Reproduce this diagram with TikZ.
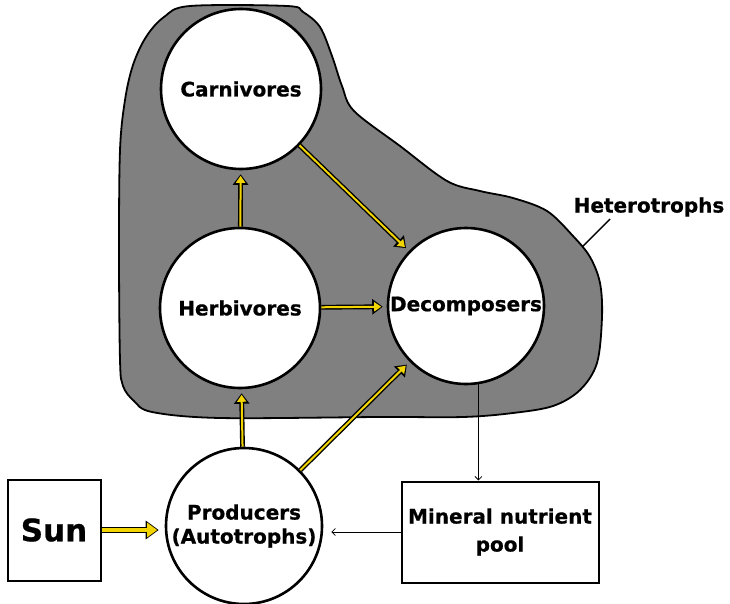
\documentclass[tikz,border=0pt]{standalone}
\usepackage{fontspec}
\setmainfont{DejaVu Sans}[BoldFeatures={FakeBold=0.7}]
\usepackage{tikz}
\usetikzlibrary{arrows.meta, positioning, calc}
\definecolor{flowyellow}{RGB}{242,212,0}
\definecolor{hetgray}{RGB}{128,128,128}
\tikzset{
  organism/.style={circle, draw=black, line width=2.6pt, fill=white,
                   minimum size=160pt, inner sep=0pt, align=center,
                   font=\fontsize{20}{24}\selectfont\bfseries},
  poolbox/.style={rectangle, draw=black, line width=2pt, fill=white,
                  inner sep=0pt, align=center,
                  font=\fontsize{20}{28}\selectfont\bfseries},
  flow/.style={draw=flowyellow, line width=2pt, shorten >=5.5pt,
               -{Triangle[length=7pt,width=9pt]},
               preaction={draw=black, line width=4.8pt, shorten >=4pt,
                          -{Triangle[length=10.5pt,width=15pt]}}},
  sunflow/.style={draw=flowyellow, line width=4.4pt, shorten >=7.5pt,
                  -{Triangle[length=10pt,width=14pt]},
                  preaction={draw=black, line width=6.4pt, shorten >=6pt,
                             -{Triangle[length=13pt,width=18pt]}}},
  cycle/.style={draw=black, line width=0.8pt,
                -{Straight Barb[length=3.5pt,width=7pt]}},
}
\begin{document}
\begin{tikzpicture}[x=1pt, y=-1pt]
  \fill[white] (0,0) rectangle (730,604);
  \useasboundingbox (0,0) rectangle (730,604);
  \draw[fill=hetgray, line width=1.8pt] plot[smooth cycle, tension=0.55] coordinates {
    (120,360) (123,386) (134,401) (152,412) (220,418) (380,417) (463,417)
    (513,413) (553,406) (580,390) (597,363) (602,317) (600,283) (590,257)
    (573,236) (547,211) (513,198) (480,191) (447,181) (400,146) (354,111)
    (342,86) (332,56) (320,27) (303,12) (287,6) (190,6) (164,17) (146,37)
    (133,65) (125,100) (120,150) (119,250)};
  \node[organism] (carn) at (241,89) {Carnivores};
  \node[organism] (herb) at (240,308) {Herbivores};
  \node[organism, minimum size=156pt] (deco) at (466,306) {Decomposers};
  \node[organism, minimum size=156pt] (prod) at (244,526) {Producers\\(Autotrophs)};
  \node[poolbox, minimum width=93pt, minimum height=101pt,
        font=\fontsize{31}{36}\selectfont\bfseries] (sun) at (54,530) {Sun};
  \node[poolbox, minimum width=197pt, minimum height=101pt] (pool) at (500,532)
    {Mineral nutrient\\pool};
  \node[font=\fontsize{20}{24}\selectfont\bfseries] (hetlabel) at (649,207) {Heterotrophs};
  \coordinate (hetedge) at (582,247);
  \coordinate (hettip) at (610,219);
  \draw[line width=1.4pt] (hetedge) -- (hettip);
  \foreach \a/\b in {herb/carn, carn/deco, herb/deco, prod/herb, prod/deco} {
    \draw[flow] (\a) -- (\b);
  }
  \draw[sunflow] (sun.east) -- (sun.east -| prod.west);
  \draw[cycle] (deco.-81) -- (deco.-81 |- pool.north);
  \draw[cycle, shorten >=8pt] (pool.west) -- (pool.west -| prod.east);
\end{tikzpicture}
\end{document}
